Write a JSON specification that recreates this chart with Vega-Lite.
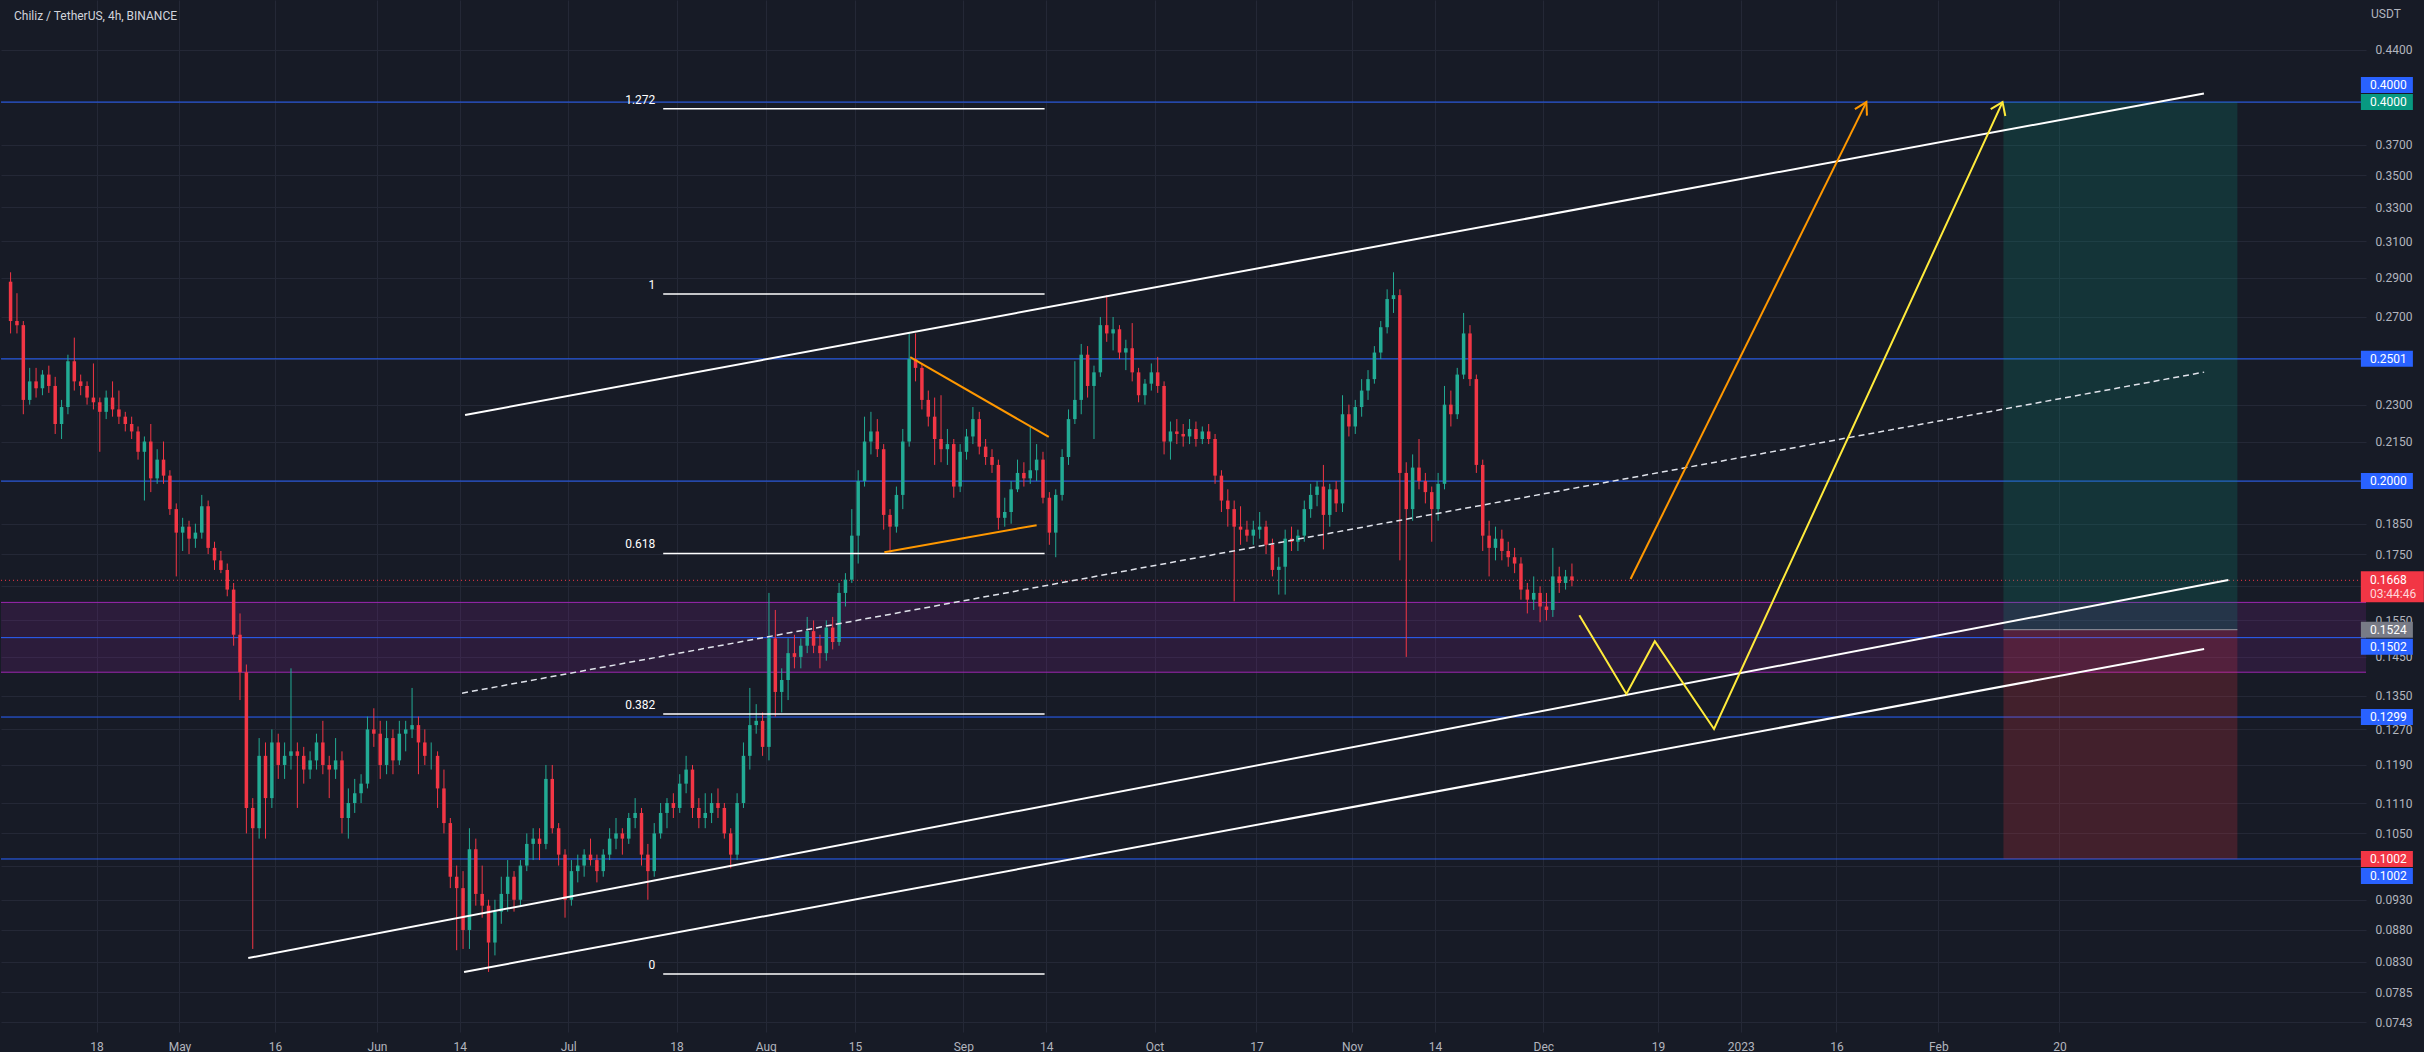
{
"$schema": "https://vega.github.io/schema/vega-lite/v6.json",
"width": 2365,
"height": 1032,
"padding": 0,
"background": "#171b26",
"config": {
  "view": {"stroke": null},
  "axis": {"labelFont": "Roboto", "labelFontSize": 12, "labelColor": "#b2b5be", "gridColor": "#242836", "gridWidth": 1, "domain": false, "ticks": false, "tickSize": 0},
  "text": {"font": "Roboto"}
},
"datasets": {
  "zone": [{"lo": 0.141, "hi": 0.1602}],
  "levels": [{"p": 0.4}, {"p": 0.2501}, {"p": 0.2}, {"p": 0.1502}, {"p": 0.1299}, {"p": 0.1002}],
  "last": [{"label": "0.1668", "countdown": "03:44:46", "p": 0.1668}],
  "position": [
    {"side": "target", "t1": "2023-02-11T05:00Z", "t2": "2023-03-19T22:00Z", "lo": 0.1524, "hi": 0.4},
    {"side": "stop", "t1": "2023-02-11T05:00Z", "t2": "2023-03-19T22:00Z", "lo": 0.1002, "hi": 0.1524}
  ],
  "fib": [
    {"level": "1.272", "p": 0.3951}, {"level": "1", "p": 0.2816}, {"level": "0.618", "p": 0.1752},
    {"level": "0.382", "p": 0.1306}, {"level": "0", "p": 0.0812}
  ],
  "captions": [{"role": "title", "text": "Chiliz / TetherUS, 4h, BINANCE"}, {"role": "unit", "text": "USDT"}],
  "pricelabels": [
    {"label": "0.4000", "p": 0.4, "kind": "line"},
    {"label": "0.4000", "p": 0.4, "kind": "target"},
    {"label": "0.2501", "p": 0.2501, "kind": "line"},
    {"label": "0.2000", "p": 0.2, "kind": "line"},
    {"label": "0.1524", "p": 0.1524, "kind": "entry"},
    {"label": "0.1502", "p": 0.1502, "kind": "line"},
    {"label": "0.1299", "p": 0.1299, "kind": "line"},
    {"label": "0.1002", "p": 0.1002, "kind": "stop"},
    {"label": "0.1002", "p": 0.1002, "kind": "line"}
  ],
  "drawings": [
    {"id": "upper", "t": "2022-06-14T19:30Z", "p": 0.2257},
    {"id": "upper", "t": "2023-03-14T16:00Z", "p": 0.4064},
    {"id": "lower1", "t": "2022-05-11T19:00Z", "p": 0.0836},
    {"id": "lower1", "t": "2023-03-18T12:00Z", "p": 0.1669},
    {"id": "lower2", "t": "2022-06-14T15:50Z", "p": 0.0815},
    {"id": "lower2", "t": "2023-03-14T16:50Z", "p": 0.1471},
    {"id": "mid", "t": "2022-06-14T08:10Z", "p": 0.1357},
    {"id": "mid", "t": "2023-03-14T16:50Z", "p": 0.2441},
    {"id": "tri_upper", "t": "2022-08-23T15:50Z", "p": 0.2509},
    {"id": "tri_upper", "t": "2022-09-14T09:40Z", "p": 0.2168},
    {"id": "tri_lower", "t": "2022-08-19T14:25Z", "p": 0.1756},
    {"id": "tri_lower", "t": "2022-09-12T12:00Z", "p": 0.1845},
    {"id": "orange_arrow", "t": "2022-12-14T16:50Z", "p": 0.1672},
    {"id": "orange_arrow", "t": "2023-01-20T16:50Z", "p": 0.4},
    {"id": "orange_head", "t": "2023-01-18T21:30Z", "p": 0.3949},
    {"id": "orange_head", "t": "2023-01-20T16:50Z", "p": 0.4},
    {"id": "orange_head", "t": "2023-01-20T19:00Z", "p": 0.3902},
    {"id": "yellow", "t": "2022-12-06T15:50Z", "p": 0.1565},
    {"id": "yellow", "t": "2022-12-14T01:10Z", "p": 0.1355},
    {"id": "yellow", "t": "2022-12-18T12:00Z", "p": 0.1492},
    {"id": "yellow", "t": "2022-12-27T19:00Z", "p": 0.1271},
    {"id": "yellow", "t": "2023-02-11T01:30Z", "p": 0.4},
    {"id": "yellow_head", "t": "2023-02-09T05:00Z", "p": 0.3949},
    {"id": "yellow_head", "t": "2023-02-11T01:30Z", "p": 0.4},
    {"id": "yellow_head", "t": "2023-02-11T12:00Z", "p": 0.3899}
  ],
  "candles": [
    {"t":"2022-04-04T12:00Z","o":0.288,"h":0.293,"l":0.262,"c":0.268},
    {"t":"2022-04-05T12:00Z","o":0.268,"h":0.282,"l":0.262,"c":0.266},
    {"t":"2022-04-06T12:00Z","o":0.266,"h":0.268,"l":0.226,"c":0.232},
    {"t":"2022-04-07T12:00Z","o":0.232,"h":0.246,"l":0.230,"c":0.240},
    {"t":"2022-04-08T12:00Z","o":0.240,"h":0.246,"l":0.233,"c":0.237},
    {"t":"2022-04-09T12:00Z","o":0.237,"h":0.245,"l":0.234,"c":0.243},
    {"t":"2022-04-10T12:00Z","o":0.243,"h":0.247,"l":0.235,"c":0.238},
    {"t":"2022-04-11T12:00Z","o":0.238,"h":0.242,"l":0.218,"c":0.222},
    {"t":"2022-04-12T12:00Z","o":0.222,"h":0.232,"l":0.216,"c":0.229},
    {"t":"2022-04-13T12:00Z","o":0.229,"h":0.252,"l":0.226,"c":0.249},
    {"t":"2022-04-14T12:00Z","o":0.249,"h":0.260,"l":0.236,"c":0.240},
    {"t":"2022-04-15T12:00Z","o":0.240,"h":0.243,"l":0.234,"c":0.238},
    {"t":"2022-04-16T12:00Z","o":0.238,"h":0.240,"l":0.230,"c":0.233},
    {"t":"2022-04-17T12:00Z","o":0.233,"h":0.248,"l":0.228,"c":0.231},
    {"t":"2022-04-18T12:00Z","o":0.231,"h":0.233,"l":0.211,"c":0.227},
    {"t":"2022-04-19T12:00Z","o":0.227,"h":0.236,"l":0.224,"c":0.233},
    {"t":"2022-04-20T12:00Z","o":0.233,"h":0.240,"l":0.225,"c":0.228},
    {"t":"2022-04-21T12:00Z","o":0.228,"h":0.236,"l":0.222,"c":0.225},
    {"t":"2022-04-22T12:00Z","o":0.225,"h":0.227,"l":0.219,"c":0.222},
    {"t":"2022-04-23T12:00Z","o":0.222,"h":0.225,"l":0.216,"c":0.219},
    {"t":"2022-04-24T12:00Z","o":0.219,"h":0.221,"l":0.208,"c":0.211},
    {"t":"2022-04-25T12:00Z","o":0.211,"h":0.217,"l":0.193,"c":0.215},
    {"t":"2022-04-26T12:00Z","o":0.215,"h":0.222,"l":0.196,"c":0.201},
    {"t":"2022-04-27T12:00Z","o":0.201,"h":0.212,"l":0.199,"c":0.208},
    {"t":"2022-04-28T12:00Z","o":0.208,"h":0.215,"l":0.199,"c":0.202},
    {"t":"2022-04-29T12:00Z","o":0.202,"h":0.204,"l":0.188,"c":0.190},
    {"t":"2022-04-30T12:00Z","o":0.190,"h":0.192,"l":0.168,"c":0.182},
    {"t":"2022-05-01T12:00Z","o":0.182,"h":0.187,"l":0.176,"c":0.184},
    {"t":"2022-05-02T12:00Z","o":0.184,"h":0.186,"l":0.175,"c":0.180},
    {"t":"2022-05-03T12:00Z","o":0.180,"h":0.185,"l":0.177,"c":0.182},
    {"t":"2022-05-04T12:00Z","o":0.182,"h":0.195,"l":0.180,"c":0.191},
    {"t":"2022-05-05T12:00Z","o":0.191,"h":0.193,"l":0.175,"c":0.177},
    {"t":"2022-05-06T12:00Z","o":0.177,"h":0.179,"l":0.170,"c":0.173},
    {"t":"2022-05-07T12:00Z","o":0.173,"h":0.176,"l":0.169,"c":0.170},
    {"t":"2022-05-08T12:00Z","o":0.170,"h":0.172,"l":0.162,"c":0.164},
    {"t":"2022-05-09T12:00Z","o":0.164,"h":0.166,"l":0.148,"c":0.151},
    {"t":"2022-05-10T12:00Z","o":0.151,"h":0.157,"l":0.134,"c":0.141},
    {"t":"2022-05-11T12:00Z","o":0.141,"h":0.143,"l":0.105,"c":0.110},
    {"t":"2022-05-12T12:00Z","o":0.110,"h":0.112,"l":0.085,"c":0.106},
    {"t":"2022-05-13T12:00Z","o":0.106,"h":0.125,"l":0.104,"c":0.121},
    {"t":"2022-05-14T12:00Z","o":0.121,"h":0.124,"l":0.104,"c":0.112},
    {"t":"2022-05-15T12:00Z","o":0.112,"h":0.127,"l":0.110,"c":0.124},
    {"t":"2022-05-16T12:00Z","o":0.124,"h":0.126,"l":0.116,"c":0.119},
    {"t":"2022-05-17T12:00Z","o":0.119,"h":0.124,"l":0.116,"c":0.121},
    {"t":"2022-05-18T12:00Z","o":0.121,"h":0.142,"l":0.118,"c":0.122},
    {"t":"2022-05-19T12:00Z","o":0.122,"h":0.124,"l":0.110,"c":0.121},
    {"t":"2022-05-20T12:00Z","o":0.121,"h":0.123,"l":0.115,"c":0.118},
    {"t":"2022-05-21T12:00Z","o":0.118,"h":0.122,"l":0.116,"c":0.120},
    {"t":"2022-05-22T12:00Z","o":0.120,"h":0.126,"l":0.118,"c":0.124},
    {"t":"2022-05-23T12:00Z","o":0.124,"h":0.129,"l":0.117,"c":0.119},
    {"t":"2022-05-24T12:00Z","o":0.119,"h":0.121,"l":0.112,"c":0.118},
    {"t":"2022-05-25T12:00Z","o":0.118,"h":0.125,"l":0.116,"c":0.120},
    {"t":"2022-05-26T12:00Z","o":0.120,"h":0.122,"l":0.105,"c":0.108},
    {"t":"2022-05-27T12:00Z","o":0.108,"h":0.114,"l":0.104,"c":0.111},
    {"t":"2022-05-28T12:00Z","o":0.111,"h":0.116,"l":0.109,"c":0.113},
    {"t":"2022-05-29T12:00Z","o":0.113,"h":0.117,"l":0.111,"c":0.115},
    {"t":"2022-05-30T12:00Z","o":0.115,"h":0.130,"l":0.114,"c":0.127},
    {"t":"2022-05-31T12:00Z","o":0.127,"h":0.132,"l":0.123,"c":0.126},
    {"t":"2022-06-01T12:00Z","o":0.126,"h":0.129,"l":0.116,"c":0.119},
    {"t":"2022-06-02T12:00Z","o":0.119,"h":0.129,"l":0.117,"c":0.125},
    {"t":"2022-06-03T12:00Z","o":0.125,"h":0.127,"l":0.117,"c":0.120},
    {"t":"2022-06-04T12:00Z","o":0.120,"h":0.129,"l":0.119,"c":0.126},
    {"t":"2022-06-05T12:00Z","o":0.126,"h":0.129,"l":0.122,"c":0.127},
    {"t":"2022-06-06T12:00Z","o":0.127,"h":0.137,"l":0.125,"c":0.128},
    {"t":"2022-06-07T12:00Z","o":0.128,"h":0.130,"l":0.117,"c":0.124},
    {"t":"2022-06-08T12:00Z","o":0.124,"h":0.127,"l":0.119,"c":0.121},
    {"t":"2022-06-09T12:00Z","o":0.121,"h":0.124,"l":0.118,"c":0.121},
    {"t":"2022-06-10T12:00Z","o":0.121,"h":0.122,"l":0.110,"c":0.114},
    {"t":"2022-06-11T12:00Z","o":0.114,"h":0.118,"l":0.105,"c":0.107},
    {"t":"2022-06-12T12:00Z","o":0.107,"h":0.108,"l":0.095,"c":0.097},
    {"t":"2022-06-13T12:00Z","o":0.097,"h":0.099,"l":0.0848,"c":0.095},
    {"t":"2022-06-14T12:00Z","o":0.095,"h":0.098,"l":0.085,"c":0.088},
    {"t":"2022-06-15T12:00Z","o":0.088,"h":0.106,"l":0.085,"c":0.102},
    {"t":"2022-06-16T12:00Z","o":0.102,"h":0.104,"l":0.092,"c":0.094},
    {"t":"2022-06-17T12:00Z","o":0.094,"h":0.099,"l":0.090,"c":0.092},
    {"t":"2022-06-18T12:00Z","o":0.092,"h":0.093,"l":0.0815,"c":0.086},
    {"t":"2022-06-19T12:00Z","o":0.086,"h":0.093,"l":0.084,"c":0.091},
    {"t":"2022-06-20T12:00Z","o":0.091,"h":0.097,"l":0.089,"c":0.094},
    {"t":"2022-06-21T12:00Z","o":0.094,"h":0.100,"l":0.091,"c":0.097},
    {"t":"2022-06-22T12:00Z","o":0.097,"h":0.098,"l":0.091,"c":0.093},
    {"t":"2022-06-23T12:00Z","o":0.093,"h":0.100,"l":0.092,"c":0.099},
    {"t":"2022-06-24T12:00Z","o":0.099,"h":0.105,"l":0.098,"c":0.103},
    {"t":"2022-06-25T12:00Z","o":0.103,"h":0.106,"l":0.100,"c":0.104},
    {"t":"2022-06-26T12:00Z","o":0.104,"h":0.106,"l":0.100,"c":0.103},
    {"t":"2022-06-27T12:00Z","o":0.103,"h":0.119,"l":0.102,"c":0.116},
    {"t":"2022-06-28T12:00Z","o":0.116,"h":0.119,"l":0.105,"c":0.106},
    {"t":"2022-06-29T12:00Z","o":0.106,"h":0.107,"l":0.099,"c":0.101},
    {"t":"2022-06-30T12:00Z","o":0.101,"h":0.102,"l":0.090,"c":0.093},
    {"t":"2022-07-01T12:00Z","o":0.093,"h":0.100,"l":0.092,"c":0.098},
    {"t":"2022-07-02T12:00Z","o":0.098,"h":0.101,"l":0.096,"c":0.099},
    {"t":"2022-07-03T12:00Z","o":0.099,"h":0.102,"l":0.097,"c":0.101},
    {"t":"2022-07-04T12:00Z","o":0.101,"h":0.104,"l":0.099,"c":0.100},
    {"t":"2022-07-05T12:00Z","o":0.100,"h":0.101,"l":0.096,"c":0.098},
    {"t":"2022-07-06T12:00Z","o":0.098,"h":0.102,"l":0.097,"c":0.101},
    {"t":"2022-07-07T12:00Z","o":0.101,"h":0.106,"l":0.100,"c":0.104},
    {"t":"2022-07-08T12:00Z","o":0.104,"h":0.108,"l":0.102,"c":0.105},
    {"t":"2022-07-09T12:00Z","o":0.105,"h":0.106,"l":0.101,"c":0.104},
    {"t":"2022-07-10T12:00Z","o":0.104,"h":0.109,"l":0.103,"c":0.108},
    {"t":"2022-07-11T12:00Z","o":0.108,"h":0.112,"l":0.106,"c":0.109},
    {"t":"2022-07-12T12:00Z","o":0.109,"h":0.110,"l":0.099,"c":0.101},
    {"t":"2022-07-13T12:00Z","o":0.101,"h":0.103,"l":0.093,"c":0.098},
    {"t":"2022-07-14T12:00Z","o":0.098,"h":0.107,"l":0.097,"c":0.105},
    {"t":"2022-07-15T12:00Z","o":0.105,"h":0.111,"l":0.104,"c":0.109},
    {"t":"2022-07-16T12:00Z","o":0.109,"h":0.112,"l":0.106,"c":0.111},
    {"t":"2022-07-17T12:00Z","o":0.111,"h":0.113,"l":0.108,"c":0.110},
    {"t":"2022-07-18T12:00Z","o":0.110,"h":0.117,"l":0.109,"c":0.115},
    {"t":"2022-07-19T12:00Z","o":0.115,"h":0.121,"l":0.113,"c":0.118},
    {"t":"2022-07-20T12:00Z","o":0.118,"h":0.119,"l":0.108,"c":0.110},
    {"t":"2022-07-21T12:00Z","o":0.110,"h":0.112,"l":0.106,"c":0.108},
    {"t":"2022-07-22T12:00Z","o":0.108,"h":0.113,"l":0.106,"c":0.109},
    {"t":"2022-07-23T12:00Z","o":0.109,"h":0.113,"l":0.107,"c":0.111},
    {"t":"2022-07-24T12:00Z","o":0.111,"h":0.114,"l":0.108,"c":0.110},
    {"t":"2022-07-25T12:00Z","o":0.110,"h":0.111,"l":0.104,"c":0.105},
    {"t":"2022-07-26T12:00Z","o":0.105,"h":0.106,"l":0.0985,"c":0.101},
    {"t":"2022-07-27T12:00Z","o":0.101,"h":0.113,"l":0.100,"c":0.111},
    {"t":"2022-07-28T12:00Z","o":0.111,"h":0.124,"l":0.110,"c":0.121},
    {"t":"2022-07-29T12:00Z","o":0.121,"h":0.137,"l":0.118,"c":0.128},
    {"t":"2022-07-30T12:00Z","o":0.128,"h":0.133,"l":0.126,"c":0.129},
    {"t":"2022-07-31T12:00Z","o":0.129,"h":0.131,"l":0.121,"c":0.123},
    {"t":"2022-08-01T12:00Z","o":0.123,"h":0.163,"l":0.120,"c":0.150},
    {"t":"2022-08-02T12:00Z","o":0.150,"h":0.158,"l":0.130,"c":0.136},
    {"t":"2022-08-03T12:00Z","o":0.136,"h":0.142,"l":0.131,"c":0.139},
    {"t":"2022-08-04T12:00Z","o":0.139,"h":0.150,"l":0.134,"c":0.146},
    {"t":"2022-08-05T12:00Z","o":0.146,"h":0.151,"l":0.142,"c":0.145},
    {"t":"2022-08-06T12:00Z","o":0.145,"h":0.150,"l":0.142,"c":0.148},
    {"t":"2022-08-07T12:00Z","o":0.148,"h":0.156,"l":0.146,"c":0.152},
    {"t":"2022-08-08T12:00Z","o":0.152,"h":0.155,"l":0.146,"c":0.148},
    {"t":"2022-08-09T12:00Z","o":0.148,"h":0.151,"l":0.142,"c":0.146},
    {"t":"2022-08-10T12:00Z","o":0.146,"h":0.155,"l":0.144,"c":0.153},
    {"t":"2022-08-11T12:00Z","o":0.153,"h":0.156,"l":0.147,"c":0.149},
    {"t":"2022-08-12T12:00Z","o":0.149,"h":0.166,"l":0.148,"c":0.163},
    {"t":"2022-08-13T12:00Z","o":0.163,"h":0.169,"l":0.159,"c":0.167},
    {"t":"2022-08-14T12:00Z","o":0.167,"h":0.190,"l":0.166,"c":0.181},
    {"t":"2022-08-15T12:00Z","o":0.181,"h":0.204,"l":0.172,"c":0.200},
    {"t":"2022-08-16T12:00Z","o":0.200,"h":0.225,"l":0.198,"c":0.215},
    {"t":"2022-08-17T12:00Z","o":0.215,"h":0.227,"l":0.210,"c":0.219},
    {"t":"2022-08-18T12:00Z","o":0.219,"h":0.224,"l":0.209,"c":0.212},
    {"t":"2022-08-19T12:00Z","o":0.212,"h":0.214,"l":0.183,"c":0.188},
    {"t":"2022-08-20T12:00Z","o":0.188,"h":0.190,"l":0.1755,"c":0.184},
    {"t":"2022-08-21T12:00Z","o":0.184,"h":0.198,"l":0.182,"c":0.195},
    {"t":"2022-08-22T12:00Z","o":0.195,"h":0.220,"l":0.190,"c":0.215},
    {"t":"2022-08-23T12:00Z","o":0.215,"h":0.262,"l":0.213,"c":0.250},
    {"t":"2022-08-24T12:00Z","o":0.250,"h":0.262,"l":0.240,"c":0.246},
    {"t":"2022-08-25T12:00Z","o":0.246,"h":0.248,"l":0.228,"c":0.232},
    {"t":"2022-08-26T12:00Z","o":0.232,"h":0.236,"l":0.221,"c":0.225},
    {"t":"2022-08-27T12:00Z","o":0.225,"h":0.233,"l":0.206,"c":0.216},
    {"t":"2022-08-28T12:00Z","o":0.216,"h":0.234,"l":0.207,"c":0.212},
    {"t":"2022-08-29T12:00Z","o":0.212,"h":0.220,"l":0.206,"c":0.214},
    {"t":"2022-08-30T12:00Z","o":0.214,"h":0.216,"l":0.194,"c":0.198},
    {"t":"2022-08-31T12:00Z","o":0.198,"h":0.214,"l":0.196,"c":0.211},
    {"t":"2022-09-01T12:00Z","o":0.211,"h":0.220,"l":0.208,"c":0.217},
    {"t":"2022-09-02T12:00Z","o":0.217,"h":0.229,"l":0.214,"c":0.224},
    {"t":"2022-09-03T12:00Z","o":0.224,"h":0.227,"l":0.210,"c":0.213},
    {"t":"2022-09-04T12:00Z","o":0.213,"h":0.216,"l":0.206,"c":0.209},
    {"t":"2022-09-05T12:00Z","o":0.209,"h":0.212,"l":0.203,"c":0.206},
    {"t":"2022-09-06T12:00Z","o":0.206,"h":0.208,"l":0.183,"c":0.187},
    {"t":"2022-09-07T12:00Z","o":0.187,"h":0.194,"l":0.184,"c":0.189},
    {"t":"2022-09-08T12:00Z","o":0.189,"h":0.200,"l":0.185,"c":0.197},
    {"t":"2022-09-09T12:00Z","o":0.197,"h":0.208,"l":0.196,"c":0.203},
    {"t":"2022-09-10T12:00Z","o":0.203,"h":0.207,"l":0.198,"c":0.201},
    {"t":"2022-09-11T12:00Z","o":0.201,"h":0.221,"l":0.199,"c":0.204},
    {"t":"2022-09-12T12:00Z","o":0.204,"h":0.214,"l":0.200,"c":0.208},
    {"t":"2022-09-13T12:00Z","o":0.208,"h":0.211,"l":0.192,"c":0.194},
    {"t":"2022-09-14T12:00Z","o":0.194,"h":0.196,"l":0.178,"c":0.182},
    {"t":"2022-09-15T12:00Z","o":0.182,"h":0.197,"l":0.174,"c":0.195},
    {"t":"2022-09-16T12:00Z","o":0.195,"h":0.212,"l":0.193,"c":0.209},
    {"t":"2022-09-17T12:00Z","o":0.209,"h":0.228,"l":0.206,"c":0.224},
    {"t":"2022-09-18T12:00Z","o":0.224,"h":0.249,"l":0.222,"c":0.232},
    {"t":"2022-09-19T12:00Z","o":0.232,"h":0.257,"l":0.226,"c":0.252},
    {"t":"2022-09-20T12:00Z","o":0.252,"h":0.256,"l":0.233,"c":0.238},
    {"t":"2022-09-21T12:00Z","o":0.238,"h":0.247,"l":0.216,"c":0.244},
    {"t":"2022-09-22T12:00Z","o":0.244,"h":0.270,"l":0.242,"c":0.266},
    {"t":"2022-09-23T12:00Z","o":0.266,"h":0.281,"l":0.258,"c":0.262},
    {"t":"2022-09-24T12:00Z","o":0.262,"h":0.270,"l":0.254,"c":0.264},
    {"t":"2022-09-25T12:00Z","o":0.264,"h":0.266,"l":0.250,"c":0.253},
    {"t":"2022-09-26T12:00Z","o":0.253,"h":0.259,"l":0.245,"c":0.255},
    {"t":"2022-09-27T12:00Z","o":0.255,"h":0.267,"l":0.240,"c":0.244},
    {"t":"2022-09-28T12:00Z","o":0.244,"h":0.246,"l":0.231,"c":0.234},
    {"t":"2022-09-29T12:00Z","o":0.234,"h":0.241,"l":0.230,"c":0.239},
    {"t":"2022-09-30T12:00Z","o":0.239,"h":0.248,"l":0.236,"c":0.244},
    {"t":"2022-10-01T12:00Z","o":0.244,"h":0.251,"l":0.235,"c":0.238},
    {"t":"2022-10-02T12:00Z","o":0.238,"h":0.240,"l":0.210,"c":0.215},
    {"t":"2022-10-03T12:00Z","o":0.215,"h":0.223,"l":0.208,"c":0.219},
    {"t":"2022-10-04T12:00Z","o":0.219,"h":0.224,"l":0.214,"c":0.218},
    {"t":"2022-10-05T12:00Z","o":0.218,"h":0.222,"l":0.213,"c":0.217},
    {"t":"2022-10-06T12:00Z","o":0.217,"h":0.224,"l":0.214,"c":0.220},
    {"t":"2022-10-07T12:00Z","o":0.220,"h":0.223,"l":0.213,"c":0.216},
    {"t":"2022-10-08T12:00Z","o":0.216,"h":0.221,"l":0.214,"c":0.219},
    {"t":"2022-10-09T12:00Z","o":0.219,"h":0.222,"l":0.214,"c":0.216},
    {"t":"2022-10-10T12:00Z","o":0.216,"h":0.218,"l":0.199,"c":0.202},
    {"t":"2022-10-11T12:00Z","o":0.202,"h":0.204,"l":0.189,"c":0.193},
    {"t":"2022-10-12T12:00Z","o":0.193,"h":0.197,"l":0.184,"c":0.190},
    {"t":"2022-10-13T12:00Z","o":0.190,"h":0.193,"l":0.1605,"c":0.184},
    {"t":"2022-10-14T12:00Z","o":0.184,"h":0.191,"l":0.178,"c":0.183},
    {"t":"2022-10-15T12:00Z","o":0.183,"h":0.186,"l":0.179,"c":0.181},
    {"t":"2022-10-16T12:00Z","o":0.181,"h":0.186,"l":0.178,"c":0.183},
    {"t":"2022-10-17T12:00Z","o":0.183,"h":0.189,"l":0.180,"c":0.184},
    {"t":"2022-10-18T12:00Z","o":0.184,"h":0.186,"l":0.175,"c":0.178},
    {"t":"2022-10-19T12:00Z","o":0.178,"h":0.180,"l":0.168,"c":0.170},
    {"t":"2022-10-20T12:00Z","o":0.170,"h":0.174,"l":0.1625,"c":0.171},
    {"t":"2022-10-21T12:00Z","o":0.171,"h":0.183,"l":0.1625,"c":0.180},
    {"t":"2022-10-22T12:00Z","o":0.180,"h":0.184,"l":0.176,"c":0.179},
    {"t":"2022-10-23T12:00Z","o":0.179,"h":0.183,"l":0.176,"c":0.181},
    {"t":"2022-10-24T12:00Z","o":0.181,"h":0.193,"l":0.179,"c":0.190},
    {"t":"2022-10-25T12:00Z","o":0.190,"h":0.199,"l":0.187,"c":0.195},
    {"t":"2022-10-26T12:00Z","o":0.195,"h":0.200,"l":0.191,"c":0.198},
    {"t":"2022-10-27T12:00Z","o":0.198,"h":0.206,"l":0.1765,"c":0.188},
    {"t":"2022-10-28T12:00Z","o":0.188,"h":0.199,"l":0.184,"c":0.197},
    {"t":"2022-10-29T12:00Z","o":0.197,"h":0.200,"l":0.189,"c":0.192},
    {"t":"2022-10-30T12:00Z","o":0.192,"h":0.234,"l":0.189,"c":0.226},
    {"t":"2022-10-31T12:00Z","o":0.226,"h":0.230,"l":0.217,"c":0.221},
    {"t":"2022-11-01T12:00Z","o":0.221,"h":0.232,"l":0.218,"c":0.229},
    {"t":"2022-11-02T12:00Z","o":0.229,"h":0.241,"l":0.225,"c":0.236},
    {"t":"2022-11-03T12:00Z","o":0.236,"h":0.245,"l":0.232,"c":0.241},
    {"t":"2022-11-04T12:00Z","o":0.241,"h":0.256,"l":0.239,"c":0.253},
    {"t":"2022-11-05T12:00Z","o":0.253,"h":0.268,"l":0.250,"c":0.265},
    {"t":"2022-11-06T12:00Z","o":0.265,"h":0.284,"l":0.262,"c":0.279},
    {"t":"2022-11-07T12:00Z","o":0.279,"h":0.293,"l":0.272,"c":0.281},
    {"t":"2022-11-08T12:00Z","o":0.281,"h":0.284,"l":0.173,"c":0.203},
    {"t":"2022-11-09T12:00Z","o":0.203,"h":0.207,"l":0.145,"c":0.190},
    {"t":"2022-11-10T12:00Z","o":0.190,"h":0.210,"l":0.186,"c":0.205},
    {"t":"2022-11-11T12:00Z","o":0.205,"h":0.216,"l":0.197,"c":0.200},
    {"t":"2022-11-12T12:00Z","o":0.200,"h":0.203,"l":0.192,"c":0.196},
    {"t":"2022-11-13T12:00Z","o":0.196,"h":0.198,"l":0.179,"c":0.190},
    {"t":"2022-11-14T12:00Z","o":0.190,"h":0.203,"l":0.186,"c":0.199},
    {"t":"2022-11-15T12:00Z","o":0.199,"h":0.238,"l":0.197,"c":0.230},
    {"t":"2022-11-16T12:00Z","o":0.230,"h":0.236,"l":0.221,"c":0.226},
    {"t":"2022-11-17T12:00Z","o":0.226,"h":0.246,"l":0.224,"c":0.243},
    {"t":"2022-11-18T12:00Z","o":0.243,"h":0.272,"l":0.241,"c":0.262},
    {"t":"2022-11-19T12:00Z","o":0.262,"h":0.266,"l":0.238,"c":0.241},
    {"t":"2022-11-20T12:00Z","o":0.241,"h":0.243,"l":0.203,"c":0.206},
    {"t":"2022-11-21T12:00Z","o":0.206,"h":0.208,"l":0.176,"c":0.181},
    {"t":"2022-11-22T12:00Z","o":0.181,"h":0.186,"l":0.168,"c":0.177},
    {"t":"2022-11-23T12:00Z","o":0.177,"h":0.184,"l":0.173,"c":0.180},
    {"t":"2022-11-24T12:00Z","o":0.180,"h":0.183,"l":0.173,"c":0.176},
    {"t":"2022-11-25T12:00Z","o":0.176,"h":0.179,"l":0.171,"c":0.174},
    {"t":"2022-11-26T12:00Z","o":0.174,"h":0.177,"l":0.169,"c":0.172},
    {"t":"2022-11-27T12:00Z","o":0.172,"h":0.174,"l":0.161,"c":0.164},
    {"t":"2022-11-28T12:00Z","o":0.164,"h":0.166,"l":0.157,"c":0.161},
    {"t":"2022-11-29T12:00Z","o":0.161,"h":0.168,"l":0.158,"c":0.163},
    {"t":"2022-11-30T12:00Z","o":0.163,"h":0.165,"l":0.1545,"c":0.159},
    {"t":"2022-12-01T12:00Z","o":0.159,"h":0.163,"l":0.155,"c":0.158},
    {"t":"2022-12-02T12:00Z","o":0.158,"h":0.177,"l":0.156,"c":0.168},
    {"t":"2022-12-03T12:00Z","o":0.168,"h":0.171,"l":0.163,"c":0.166},
    {"t":"2022-12-04T12:00Z","o":0.166,"h":0.170,"l":0.164,"c":0.168},
    {"t":"2022-12-05T12:00Z","o":0.168,"h":0.172,"l":0.165,"c":0.1668}
  ]
},
"layer": [
  {"data": {"name": "zone"}, "mark": {"type": "rect", "color": "#9c27b0", "opacity": 0.16},
   "encoding": {"y": {"field": "lo", "type": "quantitative", "title": null}, "y2": {"field": "hi"}}},
  {"data": {"name": "zone"}, "mark": {"type": "rule", "color": "#9c27b0", "strokeWidth": 1},
   "encoding": {"y": {"field": "lo", "type": "quantitative", "title": null}}},
  {"data": {"name": "zone"}, "mark": {"type": "rule", "color": "#9c27b0", "strokeWidth": 1},
   "encoding": {"y": {"field": "hi", "type": "quantitative", "title": null}}},
  {"data": {"name": "levels"}, "mark": {"type": "rule", "color": "#2962ff", "strokeWidth": 1},
   "encoding": {"y": {"field": "p", "type": "quantitative", "title": null}}},
  {"data": {"name": "last"}, "mark": {"type": "rule", "color": "#f23645", "strokeWidth": 1, "strokeDash": [1, 3]},
   "encoding": {"y": {"field": "p", "type": "quantitative", "title": null}}},
  {"data": {"name": "position"}, "mark": {"type": "rect", "opacity": 0.2},
   "encoding": {
     "x": {"field": "t1", "type": "temporal", "title": null}, "x2": {"field": "t2"},
     "y": {"field": "lo", "type": "quantitative", "title": null}, "y2": {"field": "hi"},
     "color": {"condition": {"test": "datum.side == 'stop'", "value": "#f23645"}, "value": "#089981"}}},
  {"data": {"name": "position"}, "transform": [{"filter": "datum.side == 'target'"}],
   "mark": {"type": "rule", "color": "#9598a1", "strokeWidth": 1},
   "encoding": {"x": {"field": "t1", "type": "temporal", "title": null}, "x2": {"field": "t2"},
     "y": {"field": "lo", "type": "quantitative", "title": null}}},
  {"data": {"name": "candles"}, "mark": {"type": "rule", "strokeWidth": 1},
   "encoding": {
     "x": {"field": "t", "type": "temporal",
       "scale": {"type": "utc", "nice": false, "domain": [
         {"year": 2022, "month": 4, "date": 3, "hours": 18, "minutes": 45, "utc": true},
         {"year": 2023, "month": 4, "date": 8, "hours": 7, "minutes": 30, "utc": true}]},
       "axis": {"orient": "bottom", "title": null, "grid": true, "labelPadding": 9, "labelOverlap": false, "labelFlush": false,
         "values": [
           {"year": 2022, "month": 4, "date": 18, "utc": true},
           {"year": 2022, "month": 5, "date": 1, "utc": true},
           {"year": 2022, "month": 5, "date": 16, "utc": true},
           {"year": 2022, "month": 6, "date": 1, "utc": true},
           {"year": 2022, "month": 6, "date": 14, "utc": true},
           {"year": 2022, "month": 7, "date": 1, "utc": true},
           {"year": 2022, "month": 7, "date": 18, "utc": true},
           {"year": 2022, "month": 8, "date": 1, "utc": true},
           {"year": 2022, "month": 8, "date": 15, "utc": true},
           {"year": 2022, "month": 9, "date": 1, "utc": true},
           {"year": 2022, "month": 9, "date": 14, "utc": true},
           {"year": 2022, "month": 10, "date": 1, "utc": true},
           {"year": 2022, "month": 10, "date": 17, "utc": true},
           {"year": 2022, "month": 11, "date": 1, "utc": true},
           {"year": 2022, "month": 11, "date": 14, "utc": true},
           {"year": 2022, "month": 12, "date": 1, "utc": true},
           {"year": 2022, "month": 12, "date": 19, "utc": true},
           {"year": 2023, "month": 1, "date": 1, "utc": true},
           {"year": 2023, "month": 1, "date": 16, "utc": true},
           {"year": 2023, "month": 2, "date": 1, "utc": true},
           {"year": 2023, "month": 2, "date": 20, "utc": true}],
         "labelExpr": "utcdate(datum.value) == 1 ? (utcmonth(datum.value) == 0 ? utcFormat(datum.value, '%Y') : utcFormat(datum.value, '%b')) : utcFormat(datum.value, '%-d')"}},
     "y": {"field": "l", "type": "quantitative",
       "scale": {"type": "log", "domain": [0.07302, 0.4821], "nice": false, "zero": false},
       "axis": {"orient": "right", "title": null, "grid": true, "labelPadding": 9, "labelOverlap": false, "labelFlush": false,
         "values": [0.44, 0.4, 0.37, 0.35, 0.33, 0.31, 0.29, 0.27, 0.25, 0.23, 0.215, 0.2, 0.185, 0.175, 0.165, 0.155, 0.145, 0.135, 0.127, 0.119, 0.111, 0.105, 0.099, 0.093, 0.088, 0.083, 0.0785, 0.0743],
         "labelExpr": "indexof([0.4, 0.25, 0.2, 0.165, 0.099], datum.value) >= 0 ? '' : format(datum.value, '.4f')"}},
     "y2": {"field": "h"},
     "color": {"condition": {"test": "datum.c < datum.o", "value": "#f23645"}, "value": "#22ab94"}}},
  {"data": {"name": "candles"}, "mark": {"type": "bar", "width": 3.5},
   "encoding": {
     "x": {"field": "t", "type": "temporal", "title": null},
     "y": {"field": "o", "type": "quantitative", "title": null}, "y2": {"field": "c"},
     "color": {"condition": {"test": "datum.c < datum.o", "value": "#f23645"}, "value": "#22ab94"}}},
  {"data": {"name": "fib"}, "mark": {"type": "rule", "color": "#ffffff", "strokeWidth": 1.5},
   "encoding": {
     "x": {"datum": {"year": 2022, "month": 7, "date": 15, "hours": 21, "minutes": 45, "utc": true}, "type": "temporal"},
     "x2": {"datum": {"year": 2022, "month": 9, "date": 13, "hours": 18, "utc": true}},
     "y": {"field": "p", "type": "quantitative", "title": null}}},
  {"data": {"name": "fib"}, "mark": {"type": "text", "align": "right", "baseline": "alphabetic", "dy": -5, "color": "#ffffff", "fontSize": 12},
   "encoding": {
     "x": {"datum": {"year": 2022, "month": 7, "date": 14, "hours": 16, "utc": true}, "type": "temporal"},
     "y": {"field": "p", "type": "quantitative", "title": null},
     "text": {"field": "level"}}},
  {"data": {"name": "drawings"}, "transform": [{"filter": "indexof(['upper','lower1','lower2'], datum.id) >= 0"}],
   "mark": {"type": "line", "color": "#ffffff", "strokeWidth": 2},
   "encoding": {"x": {"field": "t", "type": "temporal", "title": null}, "y": {"field": "p", "type": "quantitative", "title": null}, "detail": {"field": "id"}}},
  {"data": {"name": "drawings"}, "transform": [{"filter": "datum.id == 'mid'"}],
   "mark": {"type": "line", "color": "#e0e3eb", "strokeWidth": 1.5, "strokeDash": [6, 4]},
   "encoding": {"x": {"field": "t", "type": "temporal", "title": null}, "y": {"field": "p", "type": "quantitative", "title": null}, "detail": {"field": "id"}}},
  {"data": {"name": "drawings"}, "transform": [{"filter": "indexof(['tri_upper','tri_lower','orange_arrow','orange_head'], datum.id) >= 0"}],
   "mark": {"type": "line", "color": "#ff9800", "strokeWidth": 2},
   "encoding": {"x": {"field": "t", "type": "temporal", "title": null}, "y": {"field": "p", "type": "quantitative", "title": null}, "detail": {"field": "id"}}},
  {"data": {"name": "drawings"}, "transform": [{"filter": "indexof(['yellow','yellow_head'], datum.id) >= 0"}],
   "mark": {"type": "line", "color": "#ffeb3b", "strokeWidth": 2},
   "encoding": {"x": {"field": "t", "type": "temporal", "title": null}, "y": {"field": "p", "type": "quantitative", "title": null}, "detail": {"field": "id"}}},
  {"data": {"name": "captions"}, "transform": [{"filter": "datum.role == 'title'"}],
   "mark": {"type": "text", "align": "left", "baseline": "middle", "color": "#d1d4dc", "fontSize": 12},
   "encoding": {
     "x": {"datum": {"year": 2022, "month": 4, "date": 5, "hours": 0, "minutes": 45, "utc": true}, "type": "temporal"},
     "y": {"datum": 0.4681, "type": "quantitative"},
     "text": {"field": "text"}}},
  {"data": {"name": "captions"}, "transform": [{"filter": "datum.role == 'unit'"}],
   "mark": {"type": "text", "align": "left", "baseline": "middle", "color": "#b2b5be", "fontSize": 12},
   "encoding": {
     "x": {"datum": {"year": 2023, "month": 4, "date": 9, "hours": 21, "minutes": 30, "utc": true}, "type": "temporal"},
     "y": {"datum": 0.470, "type": "quantitative"},
     "text": {"field": "text"}}},
  {"data": {"name": "pricelabels"},
   "transform": [{"filter": "!(datum.kind == 'line' && (datum.p == 0.4 || datum.p == 0.1502 || datum.p == 0.1002))"}],
   "layer": [
     {"mark": {"type": "tick", "orient": "horizontal", "size": 52, "thickness": 16, "opacity": 1, "filled": true},
      "encoding": {
        "x": {"datum": {"year": 2023, "month": 4, "date": 12, "hours": 9, "utc": true}, "type": "temporal"},
        "y": {"field": "p", "type": "quantitative", "title": null},
        "color": {"condition": [{"test": "datum.kind == 'line'", "value": "#2962ff"}, {"test": "datum.kind == 'target'", "value": "#089981"}, {"test": "datum.kind == 'entry'", "value": "#787b86"}], "value": "#f23645"}}},
     {"mark": {"type": "text", "align": "left", "baseline": "middle", "color": "#ffffff", "fontSize": 12},
      "encoding": {
        "x": {"datum": {"year": 2023, "month": 4, "date": 9, "hours": 17, "utc": true}, "type": "temporal"},
        "y": {"field": "p", "type": "quantitative", "title": null},
        "text": {"field": "label"}}}
   ]},
  {"data": {"name": "pricelabels"},
   "transform": [{"filter": "datum.kind == 'line' && datum.p == 0.4"}],
   "layer": [
     {"mark": {"type": "tick", "orient": "horizontal", "size": 52, "thickness": 16, "opacity": 1, "filled": true, "color": "#2962ff", "yOffset": -17},
      "encoding": {
        "x": {"datum": {"year": 2023, "month": 4, "date": 12, "hours": 9, "utc": true}, "type": "temporal"},
        "y": {"field": "p", "type": "quantitative", "title": null}}},
     {"mark": {"type": "text", "align": "left", "baseline": "middle", "color": "#ffffff", "fontSize": 12, "dy": -17},
      "encoding": {
        "x": {"datum": {"year": 2023, "month": 4, "date": 9, "hours": 17, "utc": true}, "type": "temporal"},
        "y": {"field": "p", "type": "quantitative", "title": null},
        "text": {"field": "label"}}}
   ]},
  {"data": {"name": "pricelabels"},
   "transform": [{"filter": "datum.kind == 'line' && datum.p == 0.1502"}],
   "layer": [
     {"mark": {"type": "tick", "orient": "horizontal", "size": 52, "thickness": 16, "opacity": 1, "filled": true, "color": "#2962ff", "yOffset": 9},
      "encoding": {
        "x": {"datum": {"year": 2023, "month": 4, "date": 12, "hours": 9, "utc": true}, "type": "temporal"},
        "y": {"field": "p", "type": "quantitative", "title": null}}},
     {"mark": {"type": "text", "align": "left", "baseline": "middle", "color": "#ffffff", "fontSize": 12, "dy": 9},
      "encoding": {
        "x": {"datum": {"year": 2023, "month": 4, "date": 9, "hours": 17, "utc": true}, "type": "temporal"},
        "y": {"field": "p", "type": "quantitative", "title": null},
        "text": {"field": "label"}}}
   ]},
  {"data": {"name": "pricelabels"},
   "transform": [{"filter": "datum.kind == 'line' && datum.p == 0.1002"}],
   "layer": [
     {"mark": {"type": "tick", "orient": "horizontal", "size": 52, "thickness": 16, "opacity": 1, "filled": true, "color": "#2962ff", "yOffset": 17},
      "encoding": {
        "x": {"datum": {"year": 2023, "month": 4, "date": 12, "hours": 9, "utc": true}, "type": "temporal"},
        "y": {"field": "p", "type": "quantitative", "title": null}}},
     {"mark": {"type": "text", "align": "left", "baseline": "middle", "color": "#ffffff", "fontSize": 12, "dy": 17},
      "encoding": {
        "x": {"datum": {"year": 2023, "month": 4, "date": 9, "hours": 17, "utc": true}, "type": "temporal"},
        "y": {"field": "p", "type": "quantitative", "title": null},
        "text": {"field": "label"}}}
   ]},
  {"data": {"name": "last"},
   "layer": [
     {"mark": {"type": "tick", "orient": "horizontal", "size": 63, "thickness": 31, "opacity": 1, "filled": true, "color": "#f23645", "yOffset": 6.5},
      "encoding": {
        "x": {"datum": {"year": 2023, "month": 4, "date": 13, "hours": 5, "minutes": 30, "utc": true}, "type": "temporal"},
        "y": {"field": "p", "type": "quantitative", "title": null}}},
     {"mark": {"type": "text", "align": "left", "baseline": "middle", "color": "#ffffff", "fontSize": 12},
      "encoding": {
        "x": {"datum": {"year": 2023, "month": 4, "date": 9, "hours": 17, "utc": true}, "type": "temporal"},
        "y": {"field": "p", "type": "quantitative", "title": null},
        "text": {"field": "label"}}},
     {"mark": {"type": "text", "align": "left", "baseline": "middle", "color": "#ffd6da", "fontSize": 12, "dy": 14},
      "encoding": {
        "x": {"datum": {"year": 2023, "month": 4, "date": 9, "hours": 17, "utc": true}, "type": "temporal"},
        "y": {"field": "p", "type": "quantitative", "title": null},
        "text": {"field": "countdown"}}}
   ]}
]
}
